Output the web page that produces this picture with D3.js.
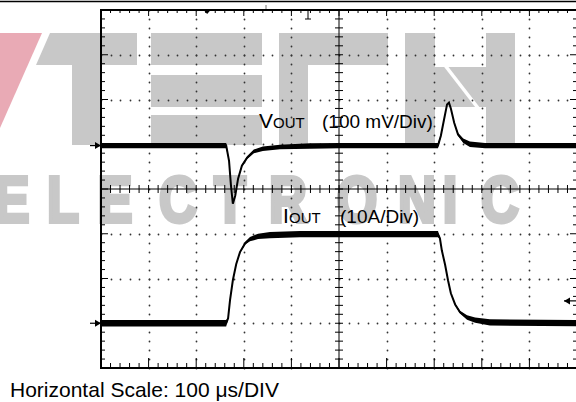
<!DOCTYPE html>
<html>
<head>
<meta charset="utf-8">
<script src="https://cdn.jsdelivr.net/npm/d3@7/dist/d3.min.js"></script>
<style>
  html, body { margin: 0; padding: 0; background: #fff; }
  svg { display: block; font-family: 'Liberation Sans', Arial, sans-serif; }
  .wm-letter { font-family: 'Liberation Sans', 'DejaVu Sans', sans-serif; font-weight: 700; }
</style>
</head>
<body>
<svg id="scope" width="576" height="402"></svg>
<script>
// region data (read off the scope capture)
// time axis: 10 divisions of 100 us
const timeTicksUs = [0, 100, 200, 300, 400, 500, 600, 700, 800, 900, 1000];
const divTicks = [-4, -3, -2, -1, 0, 1, 2, 3, 4];

// VOUT channel, 100 mV/div, deviation from its resting level
const voutTimeUs = [0, 263, 269, 273, 277, 282, 288, 296, 307, 321, 340, 376, 439, 502, 708, 714, 721, 727, 731, 735, 742, 750, 761, 775, 807, 1000];
const voutMv =     [0, 0, -34, -89, -130, -112, -74, -45, -27, -13, -7, -3, -1, 0, 0, 22, 60, 92, 96, 83, 51, 25, 11, 3, 0, 0];
const voutNoiseMv = [6, 6, 2, 1, 1, 1, 1, 2, 3, 4, 5, 5, 6, 6, 6, 2, 1, 1, 1, 1, 2, 3, 5, 6, 6, 6];

// IOUT channel, 10 A/div
const ioutTimeUs = [0, 263, 267, 271, 277, 284, 292, 303, 313, 330, 355, 418, 708, 712, 716, 723, 729, 735, 744, 754, 769, 786, 817, 1000];
const ioutAmps =   [0, 0, 1.1, 5.1, 9.6, 13.2, 15.9, 17.9, 18.8, 19.4, 19.7, 19.9, 19.9, 19.0, 16.3, 13.0, 9.6, 6.7, 4.2, 2.5, 1.3, 0.7, 0.2, 0];
const ioutNoiseA = [0.7, 0.7, 0.2, 0.1, 0.1, 0.1, 0.2, 0.3, 0.5, 0.6, 0.7, 0.7, 0.7, 0.2, 0.1, 0.1, 0.1, 0.1, 0.2, 0.3, 0.5, 0.6, 0.7, 0.7];

// channel settings
const voutMvPerDiv = 100;
const ioutAmpsPerDiv = 10;
const voutOffsetDiv = 0.97;
const ioutOffsetDiv = -3.0;
const triggerLevelDiv = -2.5;
const triggerTimeUs = 223;
// endregion

const svg = d3.select('#scope');

const x = d3.scaleLinear().domain([0, 1000]).range([101, 577]);
const y = d3.scaleLinear().domain([-4, 4]).range([368, 10]);

// minor steps: 5 per division
const minorX = d3.range(0, 1000.1, 20);
const minorY = d3.range(-4, 4.01, 0.2);

// region watermark
const wm = svg.append('g').attr('class', 'watermark');
const grey = '#c8c8c8';
wm.append('polygon').attr('points', '0,33 42,33 0,128').attr('fill', '#e9aab5');
const blocks = [
  '50,33 137,33 137,65 36,65',            // T bar
  '72,65 100,65 100,145 72,145',          // T stem
  '151,33 262,33 262,65 151,65',          // E
  '151,75 262,75 262,107 151,107',
  '151,115 262,115 262,145 151,145',
  '279,33 388,33 388,65 308,65 308,145 279,145', // C
  '405,33 435,33 435,145 405,145',        // H
  '486,33 515,33 515,145 486,145',
  '435,67 486,67 486,107 435,107'
];
wm.selectAll('polygon.blk').data(blocks).join('polygon')
  .attr('class', 'blk').attr('points', d => d).attr('fill', grey);
wm.append('line').attr('x1', 444).attr('y1', 64).attr('x2', 478).attr('y2', 108)
  .attr('stroke', '#fff').attr('stroke-width', 3.5);

const letters = [['E', 12], ['L', 63], ['E', 115], ['C', 178], ['T', 230], ['R', 288], ['O', 357], ['N', 417], ['I', 450], ['C', 500]];
wm.selectAll('text').data(letters).join('text')
  .attr('class', 'wm-letter')
  .attr('transform', d => 'translate(' + d[1] + ',222) scale(0.82,1)')
  .attr('text-anchor', 'middle')
  .attr('font-size', 64)
  .attr('fill', grey)
  .attr('stroke', grey)
  .attr('stroke-width', 4)
  .attr('stroke-linejoin', 'miter')
  .text(d => d[0]);
// endregion

// region graticule
const grid = svg.append('g').attr('class', 'grid');

// dotted division lines
const dots = [];
timeTicksUs.filter(t => t > 0 && t < 1000 && t !== 500).forEach(t => {
  minorY.forEach(d => dots.push([x(t), y(d)]));
});
divTicks.filter(d => d > -4 && d < 4 && d !== 0).forEach(dv => {
  minorX.forEach(t => dots.push([x(t), y(dv)]));
});
grid.selectAll('circle.dot').data(dots).join('circle')
  .attr('class', 'dot')
  .attr('cx', d => Math.round(d[0]) + 0.5)
  .attr('cy', d => Math.round(d[1]) + 0.5)
  .attr('r', 0.9)
  .attr('fill', '#333');

// centre cross with minor ticks
grid.append('line').attr('x1', x(0)).attr('x2', x(1000)).attr('y1', y(0)).attr('y2', y(0))
  .attr('stroke', '#000').attr('stroke-width', 1);
grid.append('line').attr('x1', x(500)).attr('x2', x(500)).attr('y1', y(-4)).attr('y2', y(4))
  .attr('stroke', '#000').attr('stroke-width', 1);
grid.selectAll('line.cx').data(minorX).join('line')
  .attr('class', 'cx')
  .attr('x1', d => x(d)).attr('x2', d => x(d))
  .attr('y1', y(0) - 4).attr('y2', y(0) + 4)
  .attr('stroke', '#000').attr('stroke-width', 1);
grid.selectAll('line.cy').data(minorY).join('line')
  .attr('class', 'cy')
  .attr('x1', x(500) - 4).attr('x2', x(500) + 4)
  .attr('y1', d => y(d)).attr('y2', d => y(d))
  .attr('stroke', '#000').attr('stroke-width', 1);

// border ticks
const isMajorT = t => Math.abs(t / 100 - Math.round(t / 100)) < 1e-6;
const isMajorD = d => Math.abs(d - Math.round(d)) < 1e-6;
grid.selectAll('line.tt').data(minorX).join('line')
  .attr('class', 'tt')
  .attr('x1', d => x(d)).attr('x2', d => x(d))
  .attr('y1', y(4)).attr('y2', d => y(4) + (isMajorT(d) ? 6 : 3))
  .attr('stroke', '#000').attr('stroke-width', 1);
grid.selectAll('line.bt').data(minorX).join('line')
  .attr('class', 'bt')
  .attr('x1', d => x(d)).attr('x2', d => x(d))
  .attr('y1', y(-4)).attr('y2', d => y(-4) - (isMajorT(d) ? 10 : 5))
  .attr('stroke', '#000').attr('stroke-width', 1);
grid.selectAll('line.lt').data(minorY).join('line')
  .attr('class', 'lt')
  .attr('x1', x(0)).attr('x2', d => x(0) + (isMajorD(d) ? 7 : 4))
  .attr('y1', d => y(d)).attr('y2', d => y(d))
  .attr('stroke', '#000').attr('stroke-width', 1);
grid.selectAll('line.rt').data(minorY).join('line')
  .attr('class', 'rt')
  .attr('x1', x(1000)).attr('x2', d => x(1000) - (isMajorD(d) ? 7 : 4))
  .attr('y1', d => y(d)).attr('y2', d => y(d))
  .attr('stroke', '#000').attr('stroke-width', 1);

// frame
grid.append('rect').attr('x', x(0)).attr('y', y(4))
  .attr('width', x(1000) - x(0)).attr('height', y(-4) - y(4))
  .attr('fill', 'none').attr('stroke', '#000').attr('stroke-width', 2);
svg.append('line').attr('x1', 0).attr('x2', 576).attr('y1', 1.5).attr('y2', 1.5)
  .attr('stroke', '#000').attr('stroke-width', 1.5);
// endregion

// region traces
function drawTrace(times, values, noise, perDiv, offset) {
  const pts = times.map((t, i) => ({t: t, v: values[i], n: noise[i]}));
  const band = d3.area()
    .x(d => x(d.t))
    .y0(d => y(offset + (d.v - d.n) / perDiv))
    .y1(d => y(offset + (d.v + d.n) / perDiv));
  const line = d3.line()
    .x(d => x(d.t))
    .y(d => y(offset + d.v / perDiv));
  svg.append('path').datum(pts).attr('d', band).attr('fill', '#000');
  svg.append('path').datum(pts).attr('d', line)
    .attr('fill', 'none').attr('stroke', '#000').attr('stroke-width', 2);
}
drawTrace(voutTimeUs, voutMv, voutNoiseMv, voutMvPerDiv, voutOffsetDiv);
drawTrace(ioutTimeUs, ioutAmps, ioutNoiseA, ioutAmpsPerDiv, ioutOffsetDiv);
// endregion

// region markers
function arrow(x0, x1, yy) {
  const dir = x1 > x0 ? 1 : -1;
  svg.append('line').attr('x1', x0).attr('x2', x1).attr('y1', yy).attr('y2', yy)
    .attr('stroke', '#000').attr('stroke-width', 1.2);
  svg.append('polygon')
    .attr('points', [[x1, yy], [x1 - dir * 6, yy - 3.5], [x1 - dir * 6, yy + 3.5]].join(' '))
    .attr('fill', '#000');
}
arrow(x(0) - 11, x(0), y(voutOffsetDiv));
arrow(x(0) - 11, x(0), y(ioutOffsetDiv));
arrow(576, 564, y(triggerLevelDiv));
svg.append('polygon')
  .attr('points', [[x(triggerTimeUs) - 3.5, y(4)], [x(triggerTimeUs) + 3.5, y(4)], [x(triggerTimeUs), y(4) + 4]].join(' '))
  .attr('fill', '#000');
svg.append('path').attr('d', 'M308,10V19M305,19H311').attr('stroke', '#000').attr('stroke-width', 1);
svg.append('line').attr('x1', 266).attr('x2', 266).attr('y1', 5).attr('y2', 9)
  .attr('stroke', '#777').attr('stroke-width', 1);
// endregion

// region labels
const lab = svg.append('g').attr('fill', '#000');
lab.append('text').attr('x', 259).attr('y', 128).attr('font-size', 21).text('V');
lab.append('text').attr('x', 273).attr('y', 128).attr('font-size', 15).text('OUT');
lab.append('text').attr('x', 322).attr('y', 128).attr('font-size', 19).text('(100 mV/Div)');
lab.append('text').attr('x', 283).attr('y', 223).attr('font-size', 21).text('I');
lab.append('text').attr('x', 289).attr('y', 223).attr('font-size', 15).text('OUT');
lab.append('text').attr('x', 340).attr('y', 223).attr('font-size', 19).text('(10A/Div)');
lab.append('text').attr('x', 10).attr('y', 397).attr('font-size', 21).text('Horizontal Scale: 100 \u03bcs/DIV');
// endregion
</script>
</body>
</html>
